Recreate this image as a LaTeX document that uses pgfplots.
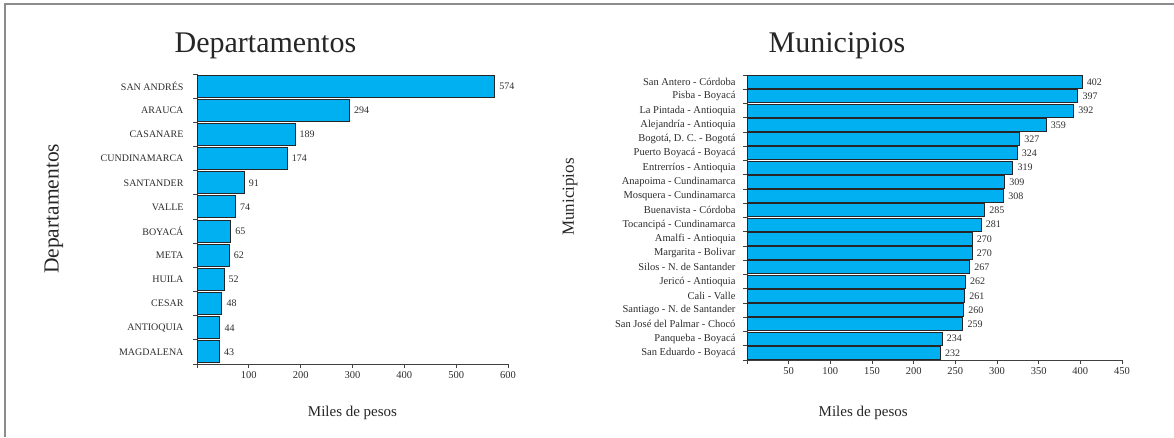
\documentclass[border=0pt]{standalone}
\usepackage{pgfplots}
\pgfplotsset{compat=1.18}
\usepackage{fontspec}
\setmainfont{Liberation Serif}
\definecolor{barc}{RGB}{0,176,240}
\definecolor{txt}{RGB}{45,45,45}
\pgfplotsset{
  /pgf/number format/assume math mode=true,
  myax/.style={
    scale only axis,
    xbar, bar shift=0pt,
    y dir=reverse,
    axis x line=bottom, axis y line=left,
    axis line style={-, draw=black!75, line width=1pt},
    tick align=outside,
    major tick length=4pt, minor tick length=4pt,
    major y tick style={draw=none},
    minor y tick style={draw=black!75, line width=0.8pt},
    x tick style={draw=black!75, line width=0.8pt},
    tick label style={text=txt},
    xticklabel style={font=\fontsize{10.5}{12}\selectfont},
    nodes near coords,
    every node near coord/.append style={font=\fontsize{10}{11}\selectfont, text=txt, xshift=1pt},
    title style={font=\fontsize{30}{32}\selectfont, text=black!85, anchor=center},
    xlabel style={font=\fontsize{15}{16}\selectfont, text=black!85, anchor=center},
    ylabel style={text=black!85, anchor=center},
  }
}
\begin{document}
\begin{tikzpicture}
\path[use as bounding box] (0pt,0pt) rectangle (1174pt,-437pt);
\draw[black!45, line width=1.5pt] (5pt,-437pt) -- (5pt,-4pt) -- (1174pt,-4pt);

\begin{axis}[myax,
  at={(197pt,-364pt)}, anchor=south west,
  width=311pt, height=290pt,
  xmin=0, xmax=600, ymin=-0.5, ymax=11.5,
  bar width=22pt,
  xtick={0,100,...,600}, xticklabels={,100,200,300,400,500,600},
  ytick={0,...,11},
  minor ytick={-0.5,0.5,...,11.5},
  yticklabels={SAN ANDRÉS,ARAUCA,CASANARE,CUNDINAMARCA,SANTANDER,VALLE,BOYACÁ,META,HUILA,CESAR,ANTIOQUIA,MAGDALENA},
  yticklabel style={font=\fontsize{10}{11}\selectfont, xshift=-6pt},
  title={Departamentos},
  title style={at={(axis description cs:0.22,1.075)}},
  xlabel={Miles de pesos},
  xlabel style={at={(axis description cs:0.5,-0.169)}},
  ylabel={Departamentos},
  ylabel style={font=\fontsize{21.5}{23}\selectfont, at={(axis description cs:-0.46,0.535)}},
]
\addplot[fill=barc, draw=black!85, line width=0.9pt] coordinates {
(574,0) (294,1) (189,2) (174,3) (91,4) (74,5) (65,6) (62,7) (52,8) (48,9) (44,10) (43,11)};
\end{axis}

\begin{axis}[myax,
  at={(747pt,-360pt)}, anchor=south west,
  width=375pt, height=285pt,
  xmin=0, xmax=450, ymin=-0.5, ymax=19.5,
  bar width=13pt,
  xtick={0,50,...,450}, xticklabels={,50,100,150,200,250,300,350,400,450},
  ytick={0,...,19},
  minor ytick={-0.5,0.5,...,19.5},
  yticklabels={San Antero - Córdoba,Pisba - Boyacá,La Pintada - Antioquia,Alejandría - Antioquia,{Bogotá, D. C. - Bogotá},Puerto Boyacá - Boyacá,Entrerríos - Antioquia,Anapoima - Cundinamarca,Mosquera - Cundinamarca,Buenavista - Córdoba,Tocancipá - Cundinamarca,Amalfi - Antioquia,Margarita - Bolivar,Silos - N. de Santander,Jericó - Antioquia,Cali - Valle,Santiago - N. de Santander,San José del Palmar - Chocó,Panqueba - Boyacá,San Eduardo - Boyacá},
  yticklabel style={font=\fontsize{10.5}{11}\selectfont, xshift=-4pt},
  title={Municipios},
  title style={at={(axis description cs:0.24,1.08)}},
  xlabel={Miles de pesos},
  xlabel style={at={(axis description cs:0.31,-0.186)}},
  ylabel={Municipios},
  ylabel style={font=\fontsize{17}{18}\selectfont, at={(axis description cs:-0.472,0.572)}},
]
\addplot[fill=barc, draw=black!85, line width=0.9pt] coordinates {
(402,0) (397,1) (392,2) (359,3) (327,4) (324,5) (319,6) (309,7) (308,8) (285,9) (281,10) (270,11) (270,12) (267,13) (262,14) (261,15) (260,16) (259,17) (234,18) (232,19)};
\end{axis}
\end{tikzpicture}
\end{document}
